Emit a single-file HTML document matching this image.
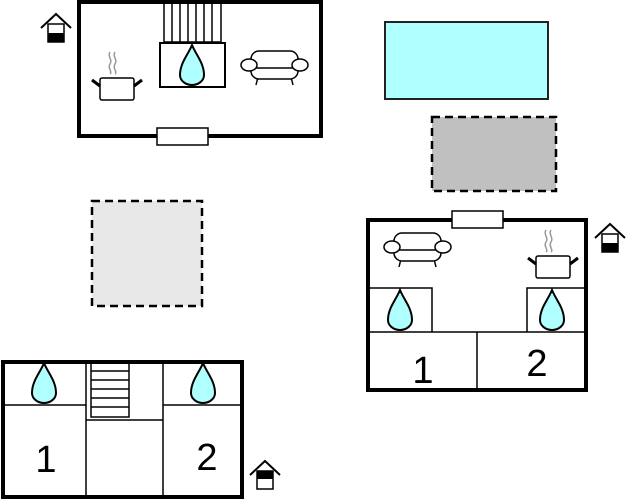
<!DOCTYPE html>
<html><head><style>html,body{margin:0;padding:0;background:#fff;}svg{display:block}</style></head>
<body>
<svg width="627" height="500" viewBox="0 0 627 500" xmlns="http://www.w3.org/2000/svg" font-family="Liberation Sans, sans-serif">
<defs>
<path id="drop" d="M0,0 C4,10 12,18 12,30 A12,10 0 0 1 -12,30 C-12,18 -4,10 0,0Z" fill="#b0ffff" stroke="#000" stroke-width="2"/>
<g id="house">
<polyline points="1,16 16,2 31,16" fill="none" stroke="#000" stroke-width="2"/>
<rect x="8" y="12" width="16" height="18" fill="#fff" stroke="#000" stroke-width="1.5"/>
<rect x="8" y="21" width="16" height="9" fill="#000"/>
</g>
<g id="houseB">
<polyline points="1,16 16,2 31,16" fill="none" stroke="#000" stroke-width="2"/>
<rect x="8" y="12" width="16" height="18" fill="#fff" stroke="#000" stroke-width="1.5"/>
<rect x="8" y="12" width="16" height="8" fill="#000"/>
</g>
<g id="sofa" fill="#fff" stroke="#000" stroke-width="1.5">
<line x1="17" y1="26" x2="15" y2="34"/><line x1="50" y1="26" x2="52" y2="34"/>
<rect x="10" y="0" width="47" height="28" rx="8"/>
<line x1="12" y1="17" x2="55" y2="17"/>
<ellipse cx="8" cy="14" rx="8" ry="6"/><ellipse cx="59" cy="14" rx="8" ry="6"/>
</g>
<g id="pot">
<path d="M18,-22 c-3,4 3,8 0,12 c-3,4 3,8 0,10 M23,-22 c-3,4 3,8 0,12 c-3,4 3,8 0,10" fill="none" stroke="#999" stroke-width="1.5"/>
<rect x="8" y="4" width="34" height="22" rx="2" fill="#fff" stroke="#000" stroke-width="1.5"/>
<line x1="0" y1="6" x2="8" y2="12" stroke="#000" stroke-width="3"/>
<line x1="50" y1="6" x2="42" y2="12" stroke="#000" stroke-width="3"/>
</g>
</defs>

<!-- top building -->
<rect x="79" y="2" width="242" height="134" fill="#fff" stroke="#000" stroke-width="4"/>
<g stroke="#000" stroke-width="1.5" fill="none">
<rect x="164" y="2" width="57" height="40"/>
<line x1="172" y1="2" x2="172" y2="42"/><line x1="180" y1="2" x2="180" y2="42"/><line x1="188" y1="2" x2="188" y2="42"/>
<line x1="196" y1="2" x2="196" y2="42"/><line x1="204" y1="2" x2="204" y2="42"/><line x1="212" y1="2" x2="212" y2="42"/>
</g>
<rect x="160" y="43" width="65" height="44" fill="#fff" stroke="#000" stroke-width="2"/>
<use href="#drop" x="192" y="45"/>
<use href="#pot" x="92" y="74"/>
<use href="#sofa" x="241" y="51"/>
<rect x="157" y="128" width="51" height="17" fill="#fff" stroke="#000" stroke-width="1.5"/>
<use href="#house" x="40" y="12"/>

<!-- cyan & gray -->
<rect x="385" y="22" width="163" height="77" fill="#b0ffff" stroke="#222" stroke-width="2"/>
<rect x="432" y="117" width="124" height="74" fill="#c0c0c0" stroke="#000" stroke-width="2.5" stroke-dasharray="8,5"/>
<rect x="92" y="201" width="110" height="105" fill="#e8e8e8" stroke="#000" stroke-width="2.5" stroke-dasharray="8,5"/>

<!-- right building -->
<rect x="368" y="220" width="218" height="170" fill="#fff" stroke="#000" stroke-width="4"/>
<g stroke="#000" stroke-width="1.5" fill="none">
<line x1="368" y1="332" x2="586" y2="332"/>
<line x1="477" y1="332" x2="477" y2="390"/>
<polyline points="368,288 432,288 432,332"/>
<polyline points="586,288 527,288 527,332"/>
</g>
<use href="#drop" x="400" y="290"/>
<use href="#drop" x="552" y="290"/>
<use href="#sofa" x="384" y="233"/>
<use href="#pot" x="528" y="252"/>
<rect x="452" y="211" width="51" height="17" fill="#fff" stroke="#000" stroke-width="1.5"/>
<text x="423" y="383" font-size="38" text-anchor="middle">1</text>
<text x="537" y="376" font-size="38" text-anchor="middle">2</text>
<use href="#house" x="594" y="222"/>

<!-- bottom building -->
<rect x="3" y="362" width="239" height="135" fill="#fff" stroke="#000" stroke-width="4"/>
<g stroke="#000" stroke-width="1.5" fill="none">
<line x1="3" y1="405" x2="86" y2="405"/>
<line x1="163" y1="405" x2="242" y2="405"/>
<line x1="86" y1="362" x2="86" y2="497"/>
<line x1="163" y1="362" x2="163" y2="497"/>
<line x1="86" y1="420" x2="163" y2="420"/>
<rect x="91" y="362" width="38" height="55"/>
<line x1="91" y1="371" x2="129" y2="371"/><line x1="91" y1="380" x2="129" y2="380"/>
<line x1="91" y1="389" x2="129" y2="389"/><line x1="91" y1="398" x2="129" y2="398"/>
<line x1="91" y1="407" x2="129" y2="407"/>
</g>
<use href="#drop" x="44" y="363"/>
<use href="#drop" x="203" y="363"/>
<text x="46" y="472" font-size="38" text-anchor="middle">1</text>
<text x="207" y="470" font-size="38" text-anchor="middle">2</text>
<use href="#houseB" x="249" y="459"/>
</svg>
</body></html>
